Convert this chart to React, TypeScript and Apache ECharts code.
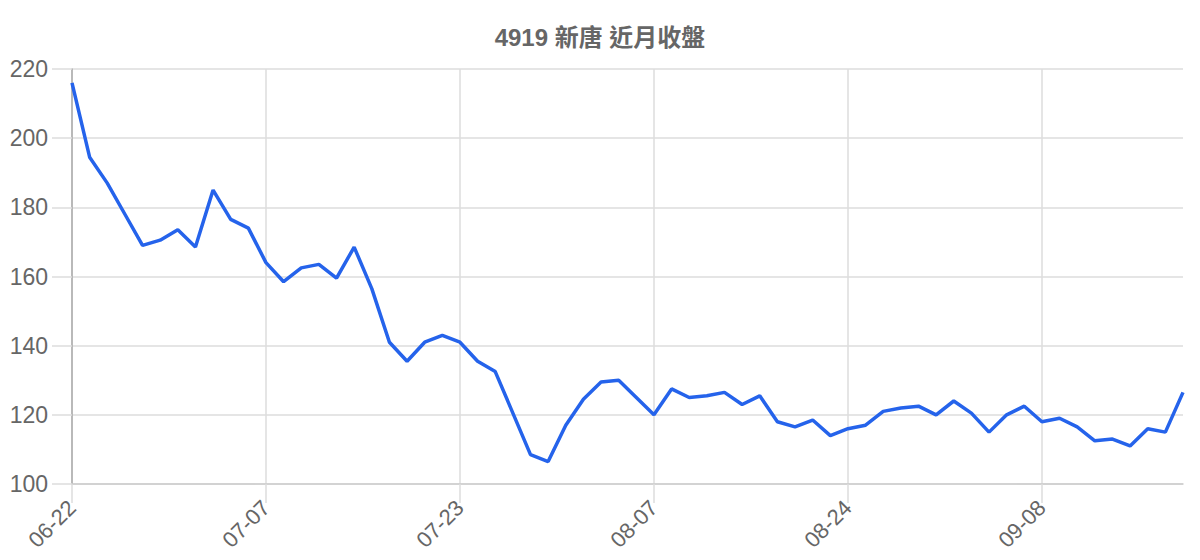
import React, { useEffect, useRef } from 'react';
import * as echarts from 'echarts';

const TITLE = '4919 新唐 近月收盤';

const dates = [
  '06-22', '06-23', '06-24', '06-25', '06-26', '06-29', '06-30', '07-01', '07-02', '07-03',
  '07-06', '07-07', '07-08', '07-09', '07-10', '07-13', '07-14', '07-15', '07-16', '07-20',
  '07-21', '07-22', '07-23', '07-24', '07-27', '07-28', '07-29', '07-30', '07-31', '08-03',
  '08-04', '08-05', '08-06', '08-07', '08-10', '08-11', '08-12', '08-13', '08-14', '08-17',
  '08-18', '08-19', '08-20', '08-21', '08-24', '08-25', '08-26', '08-27', '08-28', '08-31',
  '09-01', '09-02', '09-03', '09-04', '09-07', '09-08', '09-09', '09-10', '09-11', '09-14',
  '09-15', '09-16', '09-17', '09-18'
];

const closes = [
  216, 194.5, 187, 178, 169, 170.5, 173.5, 168.5, 185, 176.5,
  174, 164, 158.5, 162.5, 163.5, 159.5, 168.5, 156.5, 141, 135.5,
  141, 143, 141, 135.5, 132.5, 120.5, 108.5, 106.5, 117, 124.5,
  129.5, 130, 125, 120, 127.5, 125, 125.5, 126.5, 123, 125.5,
  118, 116.5, 118.5, 114, 116, 117, 121, 122, 122.5, 120,
  124, 120.5, 115, 120, 122.5, 118, 119, 116.5, 112.5, 113,
  111, 116, 115, 126.5
];

const FONT = '"Liberation Sans", Arial, "Noto Sans CJK TC", sans-serif';

const App: React.FC = () => {
  const chartRef = useRef<HTMLDivElement>(null);

  useEffect(() => {
    document.body.style.margin = '0';
    if (!chartRef.current) return;
    const chart = echarts.init(chartRef.current, null, { renderer: 'svg' });

    chart.setOption({
      animation: false,
      title: {
        text: TITLE,
        left: 'center',
        top: 20,
        textStyle: {
          color: '#666',
          fontSize: 24,
          fontWeight: 'bold',
          fontFamily: FONT
        }
      },
      grid: {
        left: 72,
        right: 17,
        top: 69,
        bottom: 76
      },
      xAxis: {
        type: 'category',
        data: dates,
        boundaryGap: false,
        axisLine: { lineStyle: { color: '#ccc', width: 1.5 } },
        axisTick: {
          show: true,
          interval: 10,
          length: 19,
          lineStyle: { color: '#ddd', width: 1.5 }
        },
        axisLabel: {
          interval: 10,
          rotate: 45,
          margin: 20,
          color: '#666',
          fontSize: 22,
          fontFamily: FONT
        },
        splitLine: {
          show: true,
          interval: 10,
          lineStyle: { color: '#ddd', width: 1.5 }
        }
      },
      yAxis: {
        type: 'value',
        min: 100,
        max: 220,
        interval: 20,
        axisLine: { show: true, lineStyle: { color: '#aaa', width: 1.5 } },
        axisTick: {
          show: true,
          length: 20,
          lineStyle: { color: '#ddd', width: 1.5 }
        },
        axisLabel: {
          margin: 24,
          color: '#666',
          fontSize: 23,
          fontFamily: FONT
        },
        splitLine: { lineStyle: { color: '#ddd', width: 1.5 } }
      },
      series: [
        {
          name: '收盤',
          type: 'line',
          data: closes,
          showSymbol: false,
          lineStyle: { color: '#2563eb', width: 3.5 },
          itemStyle: { color: '#2563eb' }
        }
      ]
    });

    return () => {
      chart.dispose();
    };
  }, []);

  return <div ref={chartRef} style={{ width: 1200, height: 560 }} />;
};

export default App;
